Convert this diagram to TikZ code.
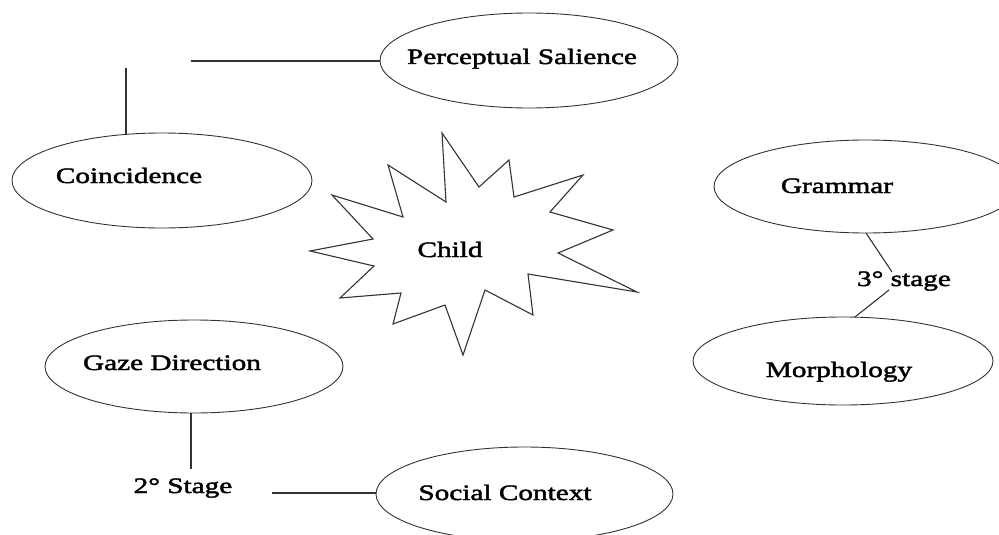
\documentclass[tikz,border=0pt]{standalone}
\usepackage{fontspec}
\newfontfamily\lblfont{Liberation Serif}[FakeStretch=1.33,FakeBold=2]
\usetikzlibrary{shapes.geometric}
\begin{document}
\begin{tikzpicture}[x=1pt,y=-1pt,
  oval/.style={draw=black!80, line width=0.9pt, ellipse, inner sep=0pt, outer sep=0pt},
  lbl/.style={inner sep=0pt, anchor=base, font=\lblfont\fontsize{22pt}{26pt}\selectfont},
  conn/.style={draw=black!80, line width=1.1pt}]
\useasboundingbox (0,0) rectangle (999,535);
\clip (0,0) rectangle (999,535);
% ellipses
\node[oval, minimum width=298pt, minimum height=95pt] (psE) at (529,60.5) {};
\node[oval, minimum width=300pt, minimum height=95pt] (coinE) at (162,180.5) {};
\node[oval, minimum width=304pt, minimum height=93pt] (gramE) at (866,186.5) {};
\node[oval, minimum width=300pt, minimum height=88pt] (morphE) at (843,361) {};
\node[oval, minimum width=298pt, minimum height=93pt] (gazeE) at (194,366.5) {};
\node[oval, minimum width=297pt, minimum height=94pt] (socE) at (524.5,494) {};
% star
\draw[conn, line join=miter] (442,133) -- (479,187) -- (509,160) -- (514,197) -- (583,175) -- (550,212)
  -- (613,230) -- (558,253) -- (637,292) -- (528,274) -- (533,315) -- (485,290) -- (463,355)
  -- (445,305) -- (393,324) -- (401,293) -- (340,298) -- (374,266) -- (310,251) -- (373,239)
  -- (332,195) -- (403,217) -- (388,165) -- (446,202) -- cycle;
% labels
\node[lbl] (psT) at (522,64) {Perceptual Salience};
\node[lbl] (coinT) at (129,183) {Coincidence};
\node[lbl] (childT) at (450,257) {Child};
\node[lbl] (gramT) at (837,193) {Grammar};
\node[lbl] (s3) at (904,286) {3° stage};
\node[lbl] (morphT) at (839,377) {Morphology};
\node[lbl] (gazeT) at (172,370) {Gaze Direction};
\node[lbl] (s2) at (183,493) {2° Stage};
\node[lbl] (socT) at (505,500) {Social Context};
% connectors
\coordinate (c1) at (191,61);
\draw[conn] (c1) -- (c1 -| psE.west);
\coordinate (c2) at (126,68);
\draw[conn] (c2) -- (c2 |- coinE.128);
\coordinate (k1) at (892,272);
\coordinate (k2) at (889,290);
\draw[conn] (gramE.south) -- (k1);
\draw[conn] (k2) -- (morphE.75);
\coordinate (k3) at (191,469);
\draw[conn] (k3 |- gazeE.south) -- (k3);
\coordinate (k4) at (272,493);
\draw[conn] (k4) -- (k4 -| socE.west);
\end{tikzpicture}
\end{document}
